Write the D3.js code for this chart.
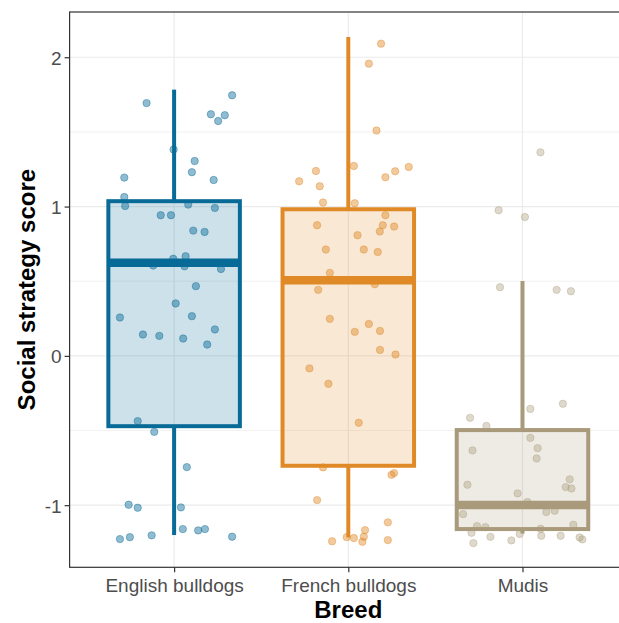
<!DOCTYPE html>
<html>
<head>
<meta charset="utf-8">
<script src="https://cdn.jsdelivr.net/npm/d3@7"></script>
<style>
  body { margin: 0; background: #fff; }
  svg { display: block; font-family: Arial, "Liberation Sans", sans-serif; }
</style>
</head>
<body>
<svg id="chart"></svg>
<script>
// categories and colours
const breeds = ['English bulldogs', 'French bulldogs', 'Mudis'];
const colors = ['#076a97', '#e08a27', '#a89a7a'];
const yticks = [-1, 0, 1, 2];
const yminor = [-0.5, 0.5, 1.5];

// box statistics per breed: [lower whisker, q1, median, q3, upper whisker]
const boxStats = [
    [-1.200, -0.471, 0.623, 1.036, 1.783],
    [-1.216, -0.736, 0.507, 0.982, 2.135],
    [-1.190, -1.160, -0.999, -0.497, 0.502]
];

// jittered points: [x offset from category, score]
const englishPoints = [
    [-0.158, 1.693], [0.333, 1.745], [0.211, 1.618], [0.291, 1.612], [0.253, 1.573],
    [-0.003, 1.382], [0.118, 1.305], [0.102, 1.230], [-0.286, 1.194], [0.227, 1.178],
    [-0.286, 1.064], [-0.281, 1.004], [0.081, 1.013], [0.234, 0.991], [-0.077, 0.942],
    [-0.018, 0.942], [0.110, 0.839], [0.175, 0.830], [0.066, 0.667], [0.060, 0.600],
    [-0.120, 0.605], [0.269, 0.582], [-0.005, 0.650], [0.125, 0.467], [0.009, 0.351],
    [-0.311, 0.257], [0.102, 0.266], [-0.179, 0.143], [-0.085, 0.134], [0.052, 0.116],
    [0.234, 0.177], [0.190, 0.076], [-0.209, -0.437], [-0.114, -0.509], [0.073, -0.745],
    [-0.261, -0.997], [-0.209, -1.017], [0.039, -1.015], [0.050, -1.160], [0.138, -1.169],
    [0.177, -1.160], [-0.129, -1.202], [-0.254, -1.214], [-0.311, -1.227], [0.333, -1.211]
];
const frenchPoints = [
    [0.188, 2.091], [0.118, 1.957], [0.162, 1.509], [0.032, 1.272], [0.347, 1.265],
    [0.269, 1.236], [0.213, 1.196], [-0.186, 1.238], [-0.282, 1.169], [-0.164, 1.136],
    [-0.145, 1.027], [0.037, 1.022], [0.213, 0.942], [-0.179, 0.875], [0.198, 0.875],
    [0.263, 0.866], [0.181, 0.833], [0.053, 0.808], [-0.129, 0.712], [0.089, 0.712],
    [0.169, 0.696], [-0.106, 0.556], [-0.173, 0.442], [0.152, 0.480], [-0.106, 0.248],
    [0.037, 0.161], [0.118, 0.214], [0.182, 0.167], [0.182, 0.040], [0.271, 0.009],
    [-0.223, -0.084], [-0.114, -0.187], [0.060, -0.448], [-0.145, -0.747], [0.248, -0.797],
    [0.263, -0.785], [-0.179, -0.966], [0.227, -1.115], [0.096, -1.167], [0.089, -1.211],
    [-0.009, -1.214], [0.032, -1.220], [0.081, -1.245], [-0.093, -1.242], [0.227, -1.234]
];
const mudiPoints = [
    [0.103, 1.363], [-0.137, 0.975], [0.014, 0.930], [-0.129, 0.460], [0.196, 0.442],
    [0.278, 0.433], [0.045, -0.355], [0.232, -0.321], [-0.301, -0.415], [-0.207, -0.469],
    [0.045, -0.549], [0.087, -0.618], [0.081, -0.687], [-0.287, -0.633], [-0.316, -0.863],
    [0.271, -0.827], [0.248, -0.879], [0.281, -0.888], [-0.028, -0.921], [0.028, -0.979],
    [0.137, -1.046], [0.185, -1.037], [-0.341, -1.060], [-0.261, -1.140], [-0.213, -1.147],
    [-0.293, -1.185], [-0.184, -1.212], [-0.282, -1.254], [-0.064, -1.236], [-0.016, -1.193],
    [0.104, -1.158], [0.108, -1.205], [0.219, -1.205], [0.292, -1.131], [0.328, -1.216],
    [0.344, -1.229]
];
const points = [englishPoints, frenchPoints, mudiPoints];

class BoxPlot {
    constructor(config) {
        this.config = {
            parent: config.parent,
            width: config.width || 619,
            height: config.height || 623,
            margin: config.margin || {top: 12, right: 0, bottom: 56, left: 70},
            panelRight: config.panelRight || 627,
        };
        this.init();
    }

    init() {
        let self = this;
        const c = self.config;
        self.svg = d3.select(c.parent)
            .attr('width', c.width)
            .attr('height', c.height);
        self.top = c.margin.top;
        self.bottom = c.height - c.margin.bottom + 0.3;
        self.left = c.margin.left - 0.4;
        self.right = c.panelRight;

        // categories sit at 1,2,3 on a continuous scale, like ggplot
        self.xscale = d3.scaleLinear()
            .domain([0.4, 3.6])
            .range([self.left, self.right]);
        self.yscale = d3.scaleLinear()
            .domain([-1.416, 2.303])
            .range([self.bottom, self.top]);
    }

    render() {
        let self = this;
        const x = self.xscale, y = self.yscale;
        const grid = self.svg.append('g');

        grid.selectAll('.minor')
            .data(yminor)
            .join('line')
            .attr('x1', self.left).attr('x2', self.right)
            .attr('y1', d => y(d)).attr('y2', d => y(d))
            .attr('stroke', '#ededed')
            .attr('stroke-width', 0.8);
        grid.selectAll('.major')
            .data(yticks)
            .join('line')
            .attr('x1', self.left).attr('x2', self.right)
            .attr('y1', d => y(d)).attr('y2', d => y(d))
            .attr('stroke', '#ebebeb')
            .attr('stroke-width', 1.2);
        grid.selectAll('.vmajor')
            .data(breeds)
            .join('line')
            .attr('x1', (d, i) => x(i + 1)).attr('x2', (d, i) => x(i + 1))
            .attr('y1', self.top).attr('y2', self.bottom)
            .attr('stroke', '#ebebeb')
            .attr('stroke-width', 1.2);

        // jittered points first, boxes drawn over them
        breeds.forEach((b, i) => {
            self.svg.append('g')
                .selectAll('circle')
                .data(points[i])
                .join('circle')
                .attr('cx', d => x(i + 1 + d[0]))
                .attr('cy', d => y(d[1]))
                .attr('r', 3.7)
                .attr('fill', colors[i])
                .attr('fill-opacity', i == 2 ? 0.38 : 0.45)
                .attr('stroke', colors[i])
                .attr('stroke-opacity', i == 2 ? 0.35 : 0.4)
                .attr('stroke-width', 1);
        });

        const half = 0.755 / 2;
        breeds.forEach((b, i) => {
            const s = boxStats[i];
            const g = self.svg.append('g');
            g.append('line')
                .attr('x1', x(i + 1)).attr('x2', x(i + 1))
                .attr('y1', y(s[3])).attr('y2', y(s[4]))
                .attr('stroke', colors[i]).attr('stroke-width', 4);
            g.append('line')
                .attr('x1', x(i + 1)).attr('x2', x(i + 1))
                .attr('y1', y(s[0])).attr('y2', y(s[1]))
                .attr('stroke', colors[i]).attr('stroke-width', 4);
            g.append('rect')
                .attr('x', x(i + 1 - half))
                .attr('y', y(s[3]))
                .attr('width', x(i + 1 + half) - x(i + 1 - half))
                .attr('height', y(s[1]) - y(s[3]))
                .attr('fill', colors[i])
                .attr('fill-opacity', 0.2)
                .attr('stroke', colors[i])
                .attr('stroke-width', 4);
            g.append('line')
                .attr('x1', x(i + 1 - half)).attr('x2', x(i + 1 + half))
                .attr('y1', y(s[2])).attr('y2', y(s[2]))
                .attr('stroke', colors[i]).attr('stroke-width', 8.5);
        });

        // panel border
        self.svg.append('rect')
            .attr('x', self.left).attr('y', self.top)
            .attr('width', self.right - self.left)
            .attr('height', self.bottom - self.top)
            .attr('fill', 'none')
            .attr('stroke', '#333333')
            .attr('stroke-width', 1.2);

        const yaxis = d3.axisLeft(y)
            .tickValues(yticks)
            .tickFormat(d => String(d))
            .tickSize(5)
            .tickPadding(3);
        const ya = self.svg.append('g')
            .attr('transform', `translate(${self.left},0)`)
            .call(yaxis);
        ya.select('.domain').remove();
        ya.selectAll('line').attr('stroke', '#333333').attr('stroke-width', 1.2);
        ya.selectAll('text')
            .attr('fill', '#4d4d4d')
            .style('font-size', '19px')
            .attr('dy', '0.36em');

        const xaxis = d3.axisBottom(x)
            .tickValues([1, 2, 3])
            .tickFormat(d => breeds[d - 1])
            .tickSize(5)
            .tickPadding(6);
        const xa = self.svg.append('g')
            .attr('transform', `translate(0,${self.bottom})`)
            .call(xaxis);
        xa.select('.domain').remove();
        xa.selectAll('line').attr('stroke', '#333333').attr('stroke-width', 1.2);
        xa.selectAll('text')
            .attr('fill', '#4d4d4d')
            .style('font-size', '19px');

        self.svg.append('text')
            .attr('x', (self.left + self.right) / 2)
            .attr('y', 618)
            .attr('text-anchor', 'middle')
            .style('font-size', '24px')
            .style('font-weight', 'bold')
            .text('Breed');
        self.svg.append('text')
            .attr('transform', 'rotate(-90)')
            .attr('x', -(self.top + self.bottom) / 2)
            .attr('y', 35)
            .attr('text-anchor', 'middle')
            .style('font-size', '24px')
            .style('font-weight', 'bold')
            .text('Social strategy score');
    }
}

const chart = new BoxPlot({parent: '#chart'});
chart.render();
</script>
</body>
</html>
